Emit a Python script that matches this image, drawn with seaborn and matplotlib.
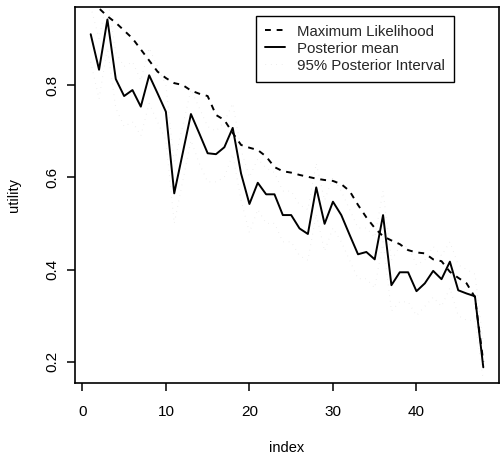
import numpy as np
import pandas as pd
import matplotlib
matplotlib.use("Agg")
import matplotlib.pyplot as plt
from matplotlib.lines import Line2D
import seaborn as sns

# Item index (sorted by maximum-likelihood utility)
index = list(range(1, 49))

# Maximum-likelihood utility estimates
ml_utility = [
    1.000, 0.966, 0.949, 0.935, 0.918, 0.901, 0.877, 0.853, 0.829, 0.815,
    0.804, 0.800, 0.788, 0.781, 0.776, 0.735, 0.724, 0.696, 0.670, 0.664,
    0.659, 0.645, 0.622, 0.613, 0.610, 0.605, 0.601, 0.597, 0.594, 0.592,
    0.585, 0.570, 0.540, 0.513, 0.490, 0.472, 0.463, 0.455, 0.442, 0.437,
    0.435, 0.422, 0.418, 0.395, 0.382, 0.370, 0.340, 0.200,
]

# Posterior mean utilities
post_mean = [
    0.910, 0.833, 0.942, 0.813, 0.776, 0.789, 0.753, 0.821, 0.782, 0.742,
    0.565, 0.651, 0.737, 0.695, 0.652, 0.650, 0.665, 0.707, 0.608, 0.542,
    0.588, 0.563, 0.563, 0.518, 0.518, 0.489, 0.477, 0.578, 0.499, 0.547,
    0.518, 0.475, 0.433, 0.438, 0.422, 0.518, 0.366, 0.394, 0.394, 0.353,
    0.370, 0.397, 0.379, 0.417, 0.355, 0.348, 0.342, 0.188,
]

# 95% posterior interval bounds
post_upper = [
    0.97, 0.90, 0.99, 0.87, 0.84, 0.85, 0.81, 0.88, 0.84, 0.80,
    0.63, 0.71, 0.79, 0.75, 0.71, 0.70, 0.72, 0.76, 0.66, 0.60,
    0.64, 0.62, 0.61, 0.57, 0.57, 0.54, 0.53, 0.63, 0.55, 0.60,
    0.57, 0.53, 0.49, 0.49, 0.47, 0.57, 0.42, 0.45, 0.45, 0.41,
    0.42, 0.45, 0.43, 0.46, 0.41, 0.40, 0.39, 0.24,
]
post_lower = [
    0.85, 0.77, 0.88, 0.75, 0.71, 0.72, 0.69, 0.76, 0.72, 0.68,
    0.50, 0.59, 0.68, 0.63, 0.59, 0.59, 0.60, 0.65, 0.55, 0.48,
    0.53, 0.50, 0.50, 0.46, 0.46, 0.43, 0.42, 0.52, 0.44, 0.49,
    0.46, 0.42, 0.38, 0.38, 0.36, 0.46, 0.31, 0.33, 0.33, 0.30,
    0.32, 0.34, 0.32, 0.36, 0.30, 0.29, 0.29, 0.16,
]

x_ticks = [0, 10, 20, 30, 40]
y_ticks = [0.2, 0.4, 0.6, 0.8]

df = pd.DataFrame({
    "index": index,
    "ml": ml_utility,
    "mean": post_mean,
    "upper": post_upper,
    "lower": post_lower,
})

sns.set_style("white")
plt.rcParams["font.family"] = ["Liberation Sans", "DejaVu Sans"]

fig = plt.figure(figsize=(5.01, 4.63), dpi=100)
ax = fig.add_axes([75 / 501, 1 - 383 / 463, 424 / 501, 376 / 463])

interval_color = "#e2e2e2"
interval_dash = (0.6, 5)
for col in ["upper", "lower"]:
    sns.lineplot(data=df, x="index", y=col, ax=ax, estimator=None,
                 color=interval_color, linewidth=0.7)
    ax.lines[-1].set_dashes(interval_dash)

sns.lineplot(data=df, x="index", y="ml", ax=ax, estimator=None,
             color="black", linewidth=1.4)
ax.lines[-1].set_dashes((3, 3))

sns.lineplot(data=df, x="index", y="mean", ax=ax, estimator=None,
             color="black", linewidth=1.4)

ax.set_xlim(-0.88, 49.88)
ax.set_ylim(0.154, 0.969)
ax.set_xticks(x_ticks)
ax.set_yticks(y_ticks)
ax.set_xticklabels([str(t) for t in x_ticks])
ax.set_yticklabels([f"{t:.1f}" for t in y_ticks], rotation=90, va="center")

ax.tick_params(axis="both", direction="out", length=6, width=1.1,
               color="black", labelsize=11, labelcolor="black",
               bottom=True, left=True)
ax.tick_params(axis="x", pad=10)
ax.tick_params(axis="y", pad=5)

for sp in ax.spines.values():
    sp.set_visible(True)
    sp.set_color("black")
    sp.set_linewidth(1.2)

ax.set_xlabel("index", fontsize=10.5, color="black")
ax.set_ylabel("utility", fontsize=10.5, color="black")
ax.xaxis.set_label_coords(0.5, -0.155)
ax.yaxis.set_label_coords(-0.128, 0.5)

handles = [
    Line2D([], [], color="black", linewidth=1.4, dashes=(3, 3)),
    Line2D([], [], color="black", linewidth=1.4),
    Line2D([], [], color=interval_color, linewidth=0.7, dashes=interval_dash),
]
labels = ["Maximum Likelihood", "Posterior mean", "95% Posterior Interval"]
leg = ax.legend(handles, labels, loc="upper left",
                bbox_to_anchor=((256 - 75) / 424, 1 - (15.7 - 7) / 376),
                fontsize=10.8, frameon=True, fancybox=False, framealpha=1,
                edgecolor="black", borderpad=0.6, handlelength=1.3,
                handletextpad=0.85, labelspacing=0.2, borderaxespad=0)
leg.get_frame().set_linewidth(1.0)

fig.savefig("out.png", dpi=100)
